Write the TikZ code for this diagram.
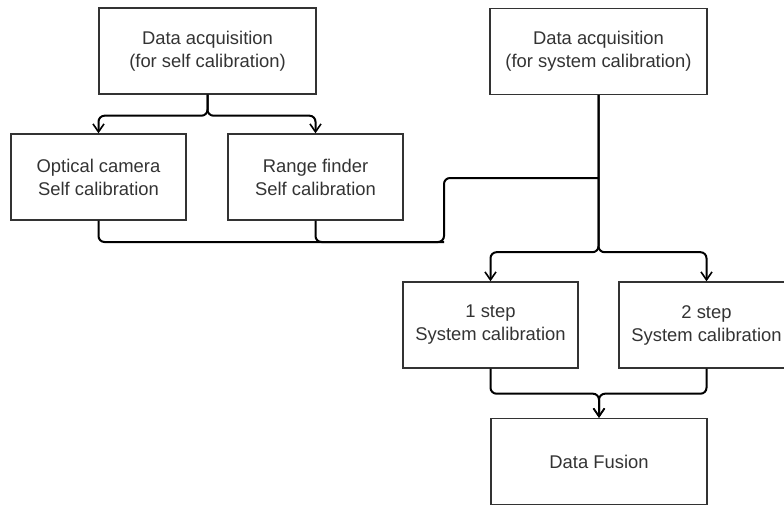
\documentclass[tikz,border=0pt]{standalone}
\usepackage{fontspec}
\setmainfont{Liberation Sans}
\usepackage{tikz}
\usetikzlibrary{arrows.meta, positioning}

\begin{document}
\begin{tikzpicture}[
    x=1pt, y=-1pt,
    every node/.style={draw=black!80, line width=1.4pt, align=center, inner sep=0pt,
        text=black!80, font=\fontsize{18.4}{23}\selectfont},
    smallbox/.style={minimum width=175pt, minimum height=86pt},
    bigbox/.style={minimum width=217pt, minimum height=86pt},
    link/.style={draw=black, line width=2pt, rounded corners=6pt},
    flow/.style={link, -{Straight Barb[length=8pt,width=11pt,line width=1.6pt]}}
]
\useasboundingbox (0,0) rectangle (784,504);

\node[bigbox] (acqself) at (207.5,51) {Data acquisition\\(for self calibration)};
\node[bigbox] (acqsys) at (598.5,51.5) {Data acquisition\\(for system calibration)};

\node[smallbox] (optcam) at (98.5,177) {Optical camera\\ Self calibration};
\node[smallbox] (range) at (315.5,177) {Range finder\\Self calibration};

\node[smallbox] (step1) at (490.5,325) {1 step\\System calibration};
\node[smallbox] (step2) at (706.5,325) {2 step\\System calibration};

\node[bigbox, minimum width=216pt] (fusion) at (599,461.5) {Data Fusion};

\coordinate (bend) at (444,242);
\coordinate (meet) at (acqsys.south |- 0,178);

% self calibration
\draw[flow] (acqself.south) -- ++(0,21) -| (optcam.north);
\draw[flow] (acqself.south) -- ++(0,21) -| (range.north);

% joins the system branch
\draw[link] (optcam.south) |- (bend) |- (meet);
\draw[link] (range.south) |- (bend);

% system calibration
\draw[flow] (acqsys.south) -- ++(0,157) -| (step1.north);
\draw[flow] (acqsys.south) -- ++(0,157) -| (step2.north);

\draw[flow] (step1.south) -- ++(0,25) -| (fusion.north);
\draw[flow] (step2.south) -- ++(0,25) -| (fusion.north);

\end{tikzpicture}
\end{document}
